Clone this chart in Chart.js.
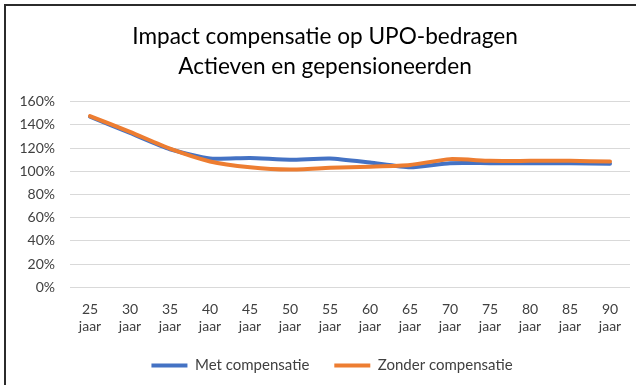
<!DOCTYPE html>
<html>
<head>
<meta charset="utf-8">
<script src="https://cdn.jsdelivr.net/npm/chart.js@4/dist/chart.umd.min.js"></script>
<style>
  html, body { margin: 0; padding: 0; background: #fff; overflow: hidden; }
  #frame {
    position: absolute; left: 4px; top: 4px;
    width: 644px; height: 390px;
    border-left: 2px solid #2b2b2b; border-top: 2px solid #2b2b2b;
  }
  #myChart { position: absolute; left: 0; top: 0; }
</style>
</head>
<body>
<div id="frame"><canvas id="myChart" width="644" height="383"></canvas></div>
<script>
const ages = ["25", "30", "35", "40", "45", "50", "55", "60", "65", "70", "75", "80", "85", "90"];
const metCompensatie = [1.47, 1.33, 1.19, 1.11, 1.115, 1.10, 1.11, 1.075, 1.035, 1.07, 1.07, 1.07, 1.07, 1.065];
const zonderCompensatie = [1.475, 1.34, 1.195, 1.085, 1.035, 1.015, 1.03, 1.04, 1.055, 1.105, 1.09, 1.09, 1.09, 1.085];
const yTicks = [0, 0.2, 0.4, 0.6, 0.8, 1.0, 1.2, 1.4, 1.6];

const font = "Lato, 'Open Sans', sans-serif";
const textColor = "#404040";
const legendGap = 25;
const legendTrim = legendGap - 12;

// wide gap between legend items without pushing the legend row down
const legendSpacing = {
  id: "legendSpacing",
  beforeLayout(chart) {
    const legend = chart.legend;
    if (legend && !legend._trimmed) {
      const fit = legend.fit;
      legend.fit = function () {
        fit.call(this);
        this.height -= legendTrim;
      };
      legend._trimmed = true;
    }
  },
  afterLayout(chart) {
    const legend = chart.legend;
    if (!legend) return;
    legend.top -= legendTrim - 5;
    legend.left += 7;
    legend.right += 7;
  },
};

const ctx = document.getElementById("myChart");
new Chart(ctx, {
  type: "line",
  data: {
    labels: ages.map(a => [a, "jaar"]),
    datasets: [
      {
        label: "Met compensatie",
        data: metCompensatie,
        borderColor: "#4472C4",
        backgroundColor: "#4472C4",
        borderWidth: 4,
        pointRadius: 0,
        tension: 0.2,
        borderCapStyle: "round",
        borderJoinStyle: "round",
        order: 1,
      },
      {
        label: "Zonder compensatie",
        data: zonderCompensatie,
        borderColor: "#ED7D31",
        backgroundColor: "#ED7D31",
        borderWidth: 4,
        pointRadius: 0,
        tension: 0.2,
        borderCapStyle: "round",
        borderJoinStyle: "round",
        order: 0,
      },
    ],
  },
  plugins: [legendSpacing],
  options: {
    responsive: false,
    animation: false,
    layout: { padding: { left: 14, right: 20, top: 6, bottom: 11 } },
    plugins: {
      tooltip: { enabled: false },
      title: {
        display: true,
        text: ["Impact compensatie op UPO-bedragen", "Actieven en gepensioneerden"],
        color: "#000",
        font: { family: font, size: 22.6, weight: "normal", lineHeight: 1.32 },
        padding: { top: 10, bottom: 20 },
      },
      legend: {
        position: "bottom",
        labels: {
          usePointStyle: true,
          pointStyle: "line",
          pointStyleWidth: 36,
          boxHeight: 8,
          color: textColor,
          font: { family: font, size: 15 },
          padding: legendGap,
          sort: (a, b) => a.datasetIndex - b.datasetIndex,
        },
      },
    },
    scales: {
      x: {
        offset: true,
        grid: { display: false },
        border: { display: false },
        ticks: {
          color: textColor,
          font: { family: font, size: 14, lineHeight: 1.2 },
          maxRotation: 0,
          autoSkip: false,
          padding: 6,
        },
      },
      y: {
        min: 0,
        max: 1.6,
        afterBuildTicks: axis => { axis.ticks = yTicks.map(v => ({ value: v })); },
        afterFit: axis => { axis.width = 50; },
        grid: { color: "#D9D9D9", lineWidth: 1, drawTicks: false },
        border: { display: false },
        ticks: {
          color: textColor,
          font: { family: font, size: 14 },
          padding: 15,
          callback: v => Math.round(v * 100) + "%",
        },
      },
    },
  },
});
</script>
</body>
</html>
